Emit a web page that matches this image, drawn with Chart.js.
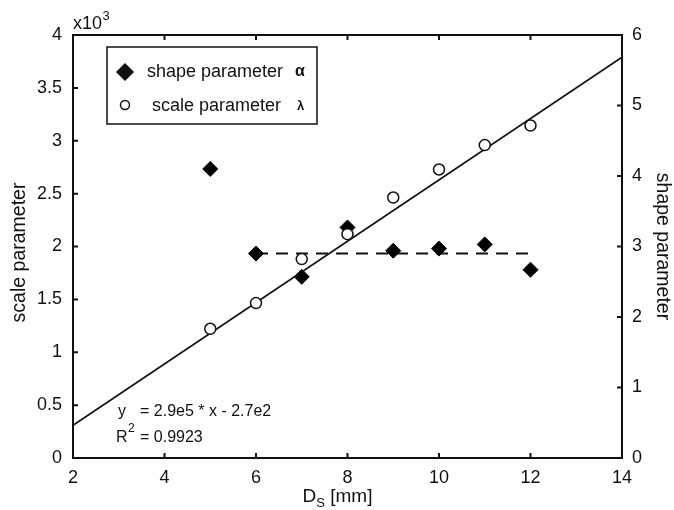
<!DOCTYPE html>
<html>
<head>
<meta charset="utf-8">
<script src="https://cdn.jsdelivr.net/npm/chart.js@4.4.1/dist/chart.umd.min.js"></script>
<style>
  html, body { margin: 0; padding: 0; background: #fff; }
  #wrap { width: 674px; height: 510px; }
</style>
</head>
<body>
<div id="wrap"><canvas id="grafico"></canvas></div>
<script>
// diameters D_S [mm] and the two Weibull parameters measured at each one
const diametros = [5, 6, 7, 8, 9, 10, 11, 12];
const formaAlfa = [4.10, 2.90, 2.57, 3.27, 2.94, 2.97, 3.03, 2.67];
const escalaLambda = [1222, 1465, 1881, 2117, 2463, 2728, 2959, 3144];

// linear fit of lambda: y = 2.9e5 * x - 2.7e2 (x in m), i.e. 290 per mm
const ajustePendiente = 2.9e5;
const ajusteOrdenada = -2.7e2;
const ajusteR2 = 0.9923;
const ajusteDesde = 2;
const ajusteHasta = 14;

// mean shape parameter drawn as a dashed level
const formaMedia = 2.9;
const mediaDesde = 6;
const mediaHasta = 12;

const INK = '#111';
const FUENTE = '"Liberation Sans", Arial, Helvetica, sans-serif';

const ajuste = (d) => ajustePendiente * d / 1000 + ajusteOrdenada;
const exp = (v) => Math.abs(v).toExponential(1).replace('+', '');

const puntos = (xs, ys) => xs.map((x, i) => ({ x, y: ys[i] }));

const marco = {
  id: 'marco',
  beforeDatasetsDraw(chart) {
    const { ctx, chartArea: a, scales } = chart;
    const largo = 5;
    ctx.save();
    ctx.strokeStyle = INK;
    ctx.lineWidth = 2;
    ctx.strokeRect(a.left, a.top, a.right - a.left, a.bottom - a.top);

    ctx.beginPath();
    scales.x.ticks.forEach(t => {
      const px = scales.x.getPixelForValue(t.value);
      ctx.moveTo(px, a.bottom); ctx.lineTo(px, a.bottom - largo);
      ctx.moveTo(px, a.top); ctx.lineTo(px, a.top + largo);
    });
    scales.yL.ticks.forEach(t => {
      const py = scales.yL.getPixelForValue(t.value);
      ctx.moveTo(a.left, py); ctx.lineTo(a.left + largo, py);
    });
    scales.yR.ticks.forEach(t => {
      const py = scales.yR.getPixelForValue(t.value);
      ctx.moveTo(a.right, py); ctx.lineTo(a.right - largo, py);
    });
    ctx.stroke();
    ctx.restore();
  },
  afterDraw(chart) {
    const { ctx, chartArea: a } = chart;
    const ds = chart.data.datasets;
    ctx.save();
    ctx.fillStyle = INK;
    ctx.textBaseline = 'middle';

    // axis titles
    ctx.font = `19.5px ${FUENTE}`;
    ctx.textAlign = 'center';
    ctx.save();
    ctx.translate(20, (a.top + a.bottom) / 2 + 6);
    ctx.rotate(-Math.PI / 2);
    ctx.fillText('scale parameter', 0, 0);
    ctx.restore();
    ctx.save();
    ctx.translate(662, (a.top + a.bottom) / 2);
    ctx.rotate(Math.PI / 2);
    ctx.fillText('shape parameter', 0, 0);
    ctx.restore();

    // D_S [mm]
    ctx.textAlign = 'left';
    ctx.font = `19px ${FUENTE}`;
    const wD = ctx.measureText('D').width;
    const wResto = ctx.measureText(' [mm]').width;
    ctx.font = `13px ${FUENTE}`;
    const wS = ctx.measureText('S').width;
    let x0 = (a.left + a.right) / 2 - 10 - (wD + wS + wResto) / 2;
    ctx.font = `19px ${FUENTE}`;
    ctx.fillText('D', x0, 497);
    ctx.font = `13px ${FUENTE}`;
    ctx.fillText('S', x0 + wD, 503);
    ctx.font = `19px ${FUENTE}`;
    ctx.fillText(' [mm]', x0 + wD + wS, 497);

    // x10^3 multiplier of the left axis
    ctx.font = `18px ${FUENTE}`;
    ctx.fillText('x10', a.left, 24);
    const wX = ctx.measureText('x10').width;
    ctx.font = `13px ${FUENTE}`;
    ctx.fillText('3', a.left + wX + 0.5, 16);

    // fit equation
    ctx.font = `16px ${FUENTE}`;
    ctx.fillText('y', 118, 412);
    ctx.fillText(`= ${exp(ajustePendiente)} * x ${ajusteOrdenada < 0 ? '-' : '+'} ${exp(ajusteOrdenada)}`, 140, 412);
    ctx.fillText('R', 116, 438);
    ctx.fillText(`= ${ajusteR2}`, 140, 438);
    ctx.font = `12px ${FUENTE}`;
    ctx.fillText('2', 128, 429);

    // legend box
    ctx.strokeStyle = INK;
    ctx.lineWidth = 1.5;
    ctx.strokeRect(107, 47, 210, 77);
    Chart.helpers.drawPoint(ctx, {
      pointStyle: ds[1].pointStyle, radius: 8, rotation: 0, borderWidth: 1
    }, 125, 72);
    ctx.fillStyle = INK;
    ctx.fill();
    ctx.fillStyle = '#fff';
    ctx.lineWidth = 1.5;
    Chart.helpers.drawPoint(ctx, {
      pointStyle: ds[0].pointStyle, radius: 4.5, rotation: 0, borderWidth: 1.5
    }, 125, 105);
    ctx.fillStyle = INK;
    ctx.font = `18px ${FUENTE}`;
    ctx.fillText(ds[1].label, 147, 72);
    ctx.fillText(ds[0].label, 152, 106);
    ctx.font = `bold 16px ${FUENTE}`;
    ctx.fillText('α', 295, 72);
    ctx.font = `bold 13px ${FUENTE}`;
    ctx.fillText('λ', 297, 106);
    ctx.restore();
  }
};

const crearGrafico = (ctx) => new Chart(ctx, {
  type: 'scatter',
  data: {
    datasets: [
      {
        label: 'scale parameter',
        data: puntos(diametros, escalaLambda),
        yAxisID: 'yL',
        pointStyle: 'circle',
        pointRadius: 5.5,
        pointBackgroundColor: '#fff',
        pointBorderColor: INK,
        pointBorderWidth: 1.5,
        order: 0
      },
      {
        label: 'shape parameter',
        data: puntos(diametros, formaAlfa),
        yAxisID: 'yR',
        pointStyle: 'rectRot',
        pointRadius: 7.5,
        pointBackgroundColor: '#000',
        pointBorderColor: '#000',
        pointBorderWidth: 1,
        order: 1
      },
      {
        label: 'fit',
        data: [
          { x: ajusteDesde, y: ajuste(ajusteDesde) },
          { x: ajusteHasta, y: ajuste(ajusteHasta) }
        ],
        yAxisID: 'yL',
        showLine: true,
        pointRadius: 0,
        borderColor: INK,
        borderWidth: 1.8,
        order: 2
      },
      {
        label: 'mean',
        data: [
          { x: mediaDesde, y: formaMedia },
          { x: mediaHasta, y: formaMedia }
        ],
        yAxisID: 'yR',
        showLine: true,
        pointRadius: 0,
        borderColor: INK,
        borderWidth: 2,
        borderDash: [12, 8],
        order: 3
      }
    ]
  },
  options: {
    responsive: true,
    maintainAspectRatio: false,
    animation: false,
    layout: { padding: { top: 35, left: 0, right: 0, bottom: 0 } },
    plugins: {
      legend: { display: false },
      tooltip: { enabled: false }
    },
    scales: {
      x: {
        type: 'linear',
        min: 2,
        max: 14,
        grid: { display: false, drawTicks: false },
        border: { display: false },
        ticks: { stepSize: 2, padding: 9, maxRotation: 0, color: INK, font: { family: FUENTE, size: 18 } },
        afterFit: (s) => { s.height = 52; }
      },
      yL: {
        type: 'linear',
        position: 'left',
        min: 0,
        max: 4000,
        grid: { display: false, drawTicks: false },
        border: { display: false },
        ticks: {
          stepSize: 500,
          padding: 11,
          color: INK,
          font: { family: FUENTE, size: 18 },
          callback: (v) => v / 1000
        },
        afterFit: (s) => { s.width = 73; }
      },
      yR: {
        type: 'linear',
        position: 'right',
        min: 0,
        max: 6,
        grid: { display: false, drawTicks: false },
        border: { display: false },
        ticks: { stepSize: 1, padding: 10, color: INK, font: { family: FUENTE, size: 18 } },
        afterFit: (s) => { s.width = 52; }
      }
    }
  },
  plugins: [marco]
});

crearGrafico(document.getElementById('grafico'));
</script>
</body>
</html>
